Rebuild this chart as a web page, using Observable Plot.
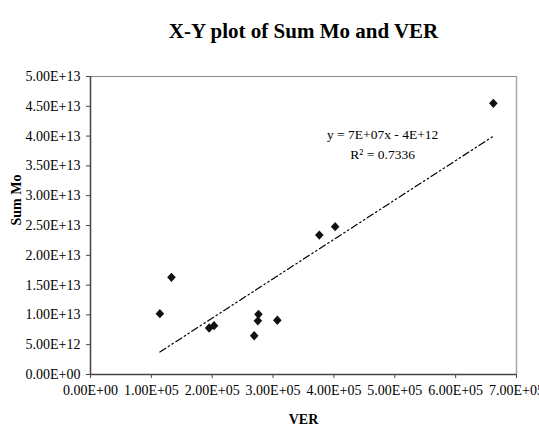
<!DOCTYPE html>
<html>
<head>
<meta charset="utf-8">
<script src="https://cdn.jsdelivr.net/npm/d3@7"></script>
<script src="https://cdn.jsdelivr.net/npm/@observablehq/plot@0.6"></script>
<style>
  html, body { margin: 0; padding: 0; background: #fff; }
</style>
</head>
<body>
<div id="chart"></div>
<script>
// Data
const ver   = [1.14e5, 1.33e5, 1.95e5, 2.03e5, 2.69e5, 2.75e5, 2.76e5, 3.07e5, 3.76e5, 4.02e5, 6.62e5];
const sumMo = [1.02e13, 1.63e13, 0.78e13, 0.82e13, 0.65e13, 0.90e13, 1.01e13, 0.91e13, 2.34e13, 2.48e13, 4.55e13];
const xTicks = [0, 1e5, 2e5, 3e5, 4e5, 5e5, 6e5, 7e5];
const yTicks = [0, 5e12, 1e13, 1.5e13, 2e13, 2.5e13, 3e13, 3.5e13, 4e13, 4.5e13, 5e13];
const titleText = "X-Y plot of Sum Mo and VER";
const xLabel = "VER";
const yLabel = "Sum Mo";
const equationLines = ["y = 7E+07x - 4E+12", "R\u00B2 = 0.7336"];

const data = ver.map((v, i) => ({ver: v, sum: sumMo[i]}));

function sci(d) {
  if (d === 0) return "0.00E+00";
  const e = Math.floor(Math.log10(Math.abs(d)) + 1e-9);
  const m = d / Math.pow(10, e);
  return m.toFixed(2) + "E" + (e >= 0 ? "+" : "-") + String(Math.abs(e)).padStart(2, "0");
}

// Excel-like square diamond marker
const squareDiamond = {
  draw(context, size) {
    const s = Math.sqrt(size / Math.PI);
    context.moveTo(0, -s * 1.08);
    context.lineTo(s, 0);
    context.lineTo(0, s * 1.08);
    context.lineTo(-s, 0);
    context.closePath();
  }
};

const font = "'Liberation Serif', 'Times New Roman', serif";

const chart = Plot.plot({
  width: 539,
  height: 430,
  marginTop: 76,
  marginBottom: 56,
  marginLeft: 90,
  marginRight: 23,
  style: { fontFamily: font, fontSize: "14px", color: "#000", background: "#fff", overflow: "visible" },
  x: { domain: [0, 7e5] },
  y: { domain: [0, 5e13] },
  marks: [
    Plot.ruleY([5e13], { stroke: "#8a8a8a", strokeWidth: 1 }),
    Plot.ruleX([7e5], { stroke: "#a8a8a8", strokeWidth: 1.5 }),
    Plot.axisX({ ticks: xTicks, tickFormat: sci, tickSize: 4, tickPadding: 7, label: null, stroke: "#444", fill: "#000" }),
    Plot.axisY({ ticks: yTicks, tickFormat: sci, tickSize: 4, tickPadding: 6, label: null, stroke: "#444", fill: "#000" }),
    Plot.ruleX([0], { stroke: "#444", strokeWidth: 1.5 }),
    Plot.ruleY([0], { stroke: "#444", strokeWidth: 1.5 }),
    Plot.linearRegressionY(data, { x: "ver", y: "sum", ci: 0, stroke: "#000", strokeWidth: 1.2, strokeDasharray: "7,3,1.5,3,1.5,3" }),
    Plot.dot(data, { x: "ver", y: "sum", symbol: squareDiamond, r: 4.3, fill: "#111", stroke: "none" }),
    Plot.text([equationLines.join("\n")], { x: 4.8e5, y: 4.04e13, lineAnchor: "middle", lineHeight: 1.45, textAnchor: "middle", fontSize: 13.5, fill: "#000", dy: 9 }),
    Plot.text([titleText], { frameAnchor: "top", dy: -53, fontSize: 21, fontWeight: "bold", fill: "#000" }),
    Plot.text([xLabel], { frameAnchor: "bottom", dy: 49, fontSize: 14, fontWeight: "bold", fill: "#000" }),
    Plot.text([yLabel], { frameAnchor: "left", dx: -74, rotate: -90, fontSize: 14, fontWeight: "bold", fill: "#000" })
  ]
});

document.getElementById("chart").appendChild(chart);
</script>
</body>
</html>
